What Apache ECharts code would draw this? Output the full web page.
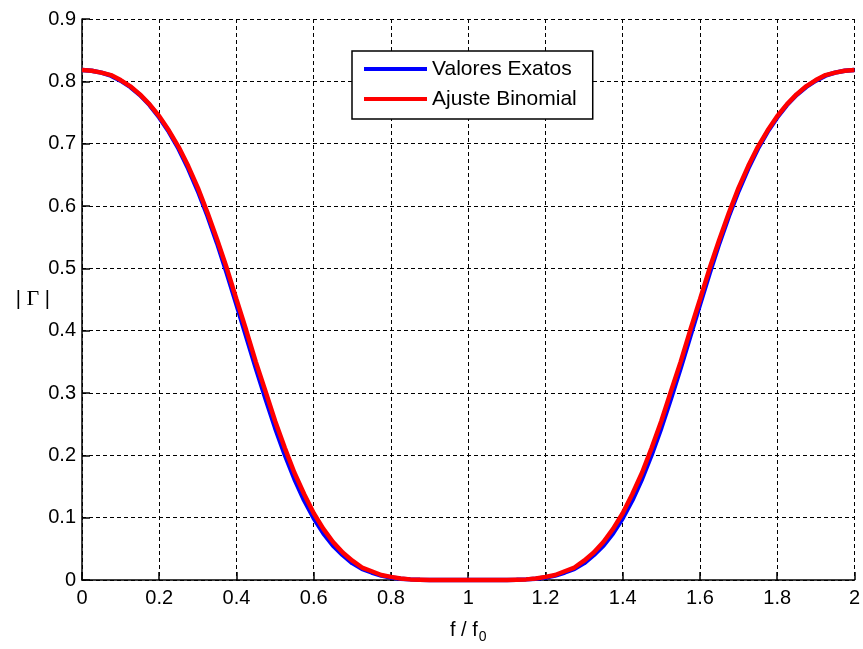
<!DOCTYPE html>
<html>
<head>
<meta charset="utf-8">
<script src="https://cdn.jsdelivr.net/npm/echarts@6/dist/echarts.min.js"></script>
<style>
html,body{margin:0;padding:0;background:#fff;}
#chart{width:863px;height:649px;}
</style>
</head>
<body>
<div id="chart"></div>
<script>
// f / f0 sample points
const freq = [0,0.025,0.05,0.075,0.1,0.125,0.15,0.175,0.2,0.225,0.25,0.275,0.3,0.325,0.35,0.375,0.4,0.425,0.45,0.475,0.5,0.525,0.55,0.575,0.6,0.625,0.65,0.675,0.7,0.725,0.75,0.775,0.8,0.825,0.85,0.875,0.9,0.925,0.95,0.975,1,1.025,1.05,1.075,1.1,1.125,1.15,1.175,1.2,1.225,1.25,1.275,1.3,1.325,1.35,1.375,1.4,1.425,1.45,1.475,1.5,1.525,1.55,1.575,1.6,1.625,1.65,1.675,1.7,1.725,1.75,1.775,1.8,1.825,1.85,1.875,1.9,1.925,1.95,1.975,2];
// |Gamma| - Valores Exatos
const exactVals = [0.818,0.817,0.814,0.809,0.801,0.791,0.778,0.762,0.742,0.719,0.692,0.660,0.624,0.584,0.540,0.492,0.442,0.391,0.340,0.291,0.244,0.201,0.162,0.128,0.099,0.075,0.055,0.040,0.027,0.018,0.012,0.007,0.004,0.002,0.001,0.0004,0,0,0,0,0,
0,0,0,0,0.0004,0.001,0.002,0.004,0.007,0.012,0.018,0.027,0.040,0.055,0.075,0.099,0.128,0.162,0.201,0.244,0.291,0.340,0.391,0.442,0.492,0.540,0.584,0.624,0.660,0.692,0.719,0.742,0.762,0.778,0.791,0.801,0.809,0.814,0.817,0.818];
// |Gamma| - Ajuste Binomial
const binomVals = [0.818,0.817,0.814,0.810,0.802,0.792,0.779,0.763,0.744,0.721,0.695,0.664,0.629,0.589,0.546,0.500,0.450,0.401,0.350,0.303,0.255,0.212,0.172,0.138,0.107,0.082,0.061,0.044,0.031,0.020,0.014,0.008,0.005,0.0025,0.001,0.0005,0,0,0,0,0,
0,0,0,0,0.0005,0.001,0.0025,0.005,0.008,0.014,0.020,0.031,0.044,0.061,0.082,0.107,0.138,0.172,0.212,0.255,0.303,0.350,0.401,0.450,0.500,0.546,0.589,0.629,0.664,0.695,0.721,0.744,0.763,0.779,0.792,0.802,0.810,0.814,0.817,0.818];
const seriesNames = ['Valores Exatos','Ajuste Binomial'];
const xTickLabels = ['0','0.2','0.4','0.6','0.8','1','1.2','1.4','1.6','1.8','2'];
const yTickLabels = ['0','0.1','0.2','0.3','0.4','0.5','0.6','0.7','0.8','0.9'];

const pair = vals => freq.map((f,i)=>[f, vals[i]]);
const FONT = '"Liberation Sans", Arial, sans-serif';
const chart = echarts.init(document.getElementById('chart'), null, {renderer:'canvas'});
chart.setOption({
  animation:false,
  backgroundColor:'#fff',
  grid:{left:82, right:4, top:19, bottom:68, containLabel:false},
  legend:{
    left:352, top:51, orient:'vertical',
    data:seriesNames.map(n=>({name:n, icon:'rect'})),
    itemWidth:63, itemHeight:4, itemGap:6,
    padding:[6,16,8,12],
    backgroundColor:'#fff', borderColor:'#000', borderWidth:1.5,
    textStyle:{fontFamily:FONT, fontSize:21, color:'#000', lineHeight:24, padding:[0,0,0,0]},
    selectedMode:false
  },
  xAxis:{
    type:'value', min:0, max:2, interval:0.2,
    name:'{m|f / f}{s|0}', nameLocation:'middle', nameGap:36,
    nameTextStyle:{rich:{m:{fontFamily:FONT, fontSize:20, color:'#000'}, s:{fontFamily:FONT, fontSize:14, color:'#000', padding:[14,0,0,1]}}},
    axisLine:{show:true, onZero:false, lineStyle:{color:'#000', width:1.5}},
    axisTick:{show:true, inside:true, length:8, lineStyle:{color:'#000', width:1.5}},
    axisLabel:{fontFamily:FONT, fontSize:20, color:'#000', margin:8,
      formatter:(v)=>xTickLabels[Math.round(v/0.2)]},
    splitLine:{show:true, lineStyle:{color:'#000', width:1, type:[4,3]}}
  },
  yAxis:{
    type:'value', min:0, max:0.9, interval:0.1,
    name:'{a|| }{g|Γ}{a| |}', nameLocation:'middle', nameRotate:0, nameGap:32, nameMoveOverlap:false,
    nameTextStyle:{align:'right', rich:{a:{fontFamily:FONT, fontSize:20, color:'#000'}, g:{fontFamily:'"Liberation Serif", serif', fontSize:22, color:'#000'}}},
    axisLine:{show:true, lineStyle:{color:'#000', width:1.5}},
    axisTick:{show:true, inside:true, length:8, lineStyle:{color:'#000', width:1.5}},
    axisLabel:{fontFamily:FONT, fontSize:20, color:'#000', margin:6,
      formatter:(v)=>yTickLabels[Math.round(v/0.1)]},
    splitLine:{show:true, lineStyle:{color:'#000', width:1, type:[4,3]}}
  },
  series:[
    {name:seriesNames[0], type:'line', data:pair(exactVals), showSymbol:false, symbol:'none', clip:false,
     lineStyle:{color:'#0000ff', width:4.5}, itemStyle:{color:'#0000ff'}, z:3},
    {name:seriesNames[1], type:'line', data:pair(binomVals), showSymbol:false, symbol:'none', clip:false,
     lineStyle:{color:'#ff0000', width:4.5}, itemStyle:{color:'#ff0000'}, z:4}
  ]
});
</script>
</body>
</html>
